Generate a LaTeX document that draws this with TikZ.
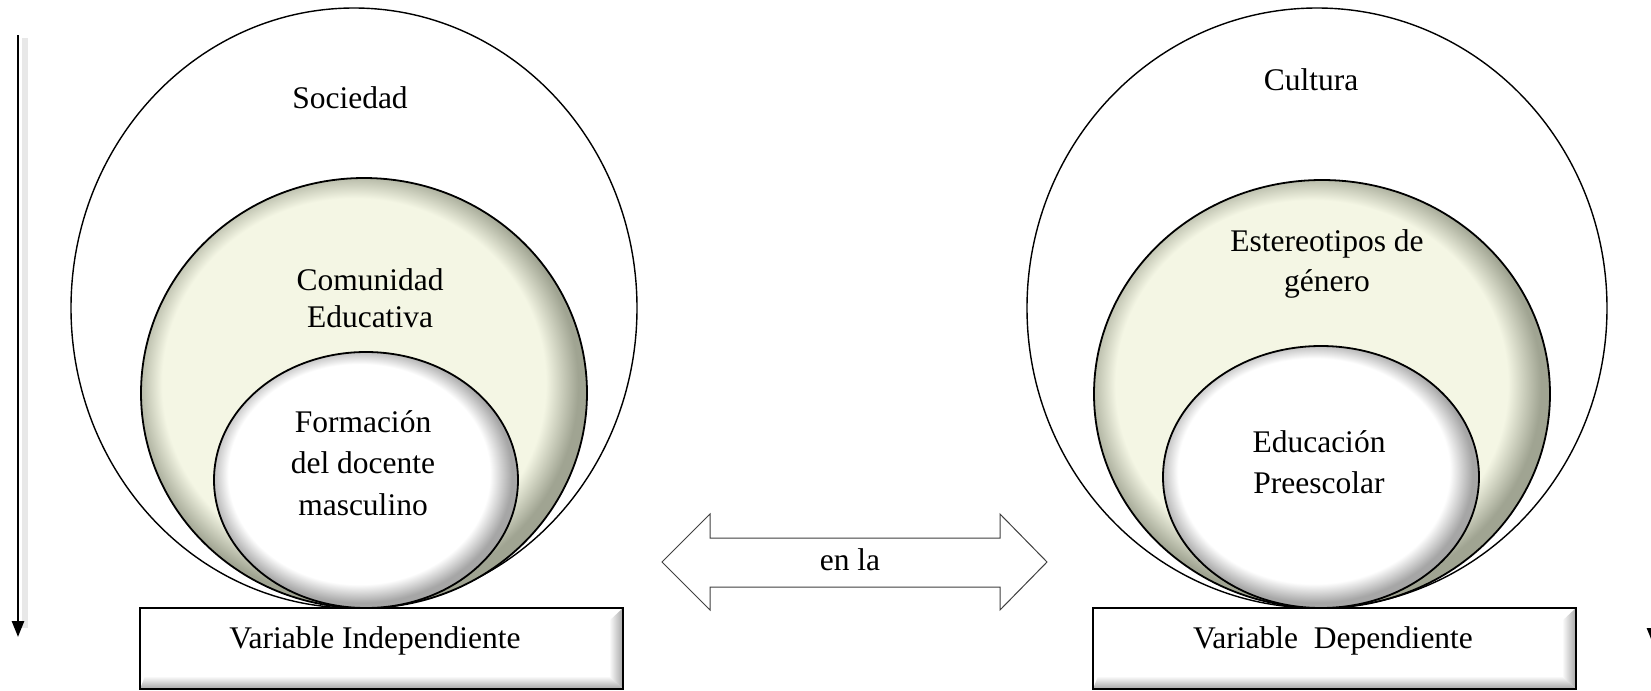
\documentclass[tikz,border=0pt]{standalone}
\usepackage{fontspec}
\setmainfont{Liberation Serif}
\usetikzlibrary{arrows.meta}
\definecolor{ringfill}{RGB}{244,246,228}
\definecolor{ringshade}{RGB}{160,164,146}
\pgfdeclareradialshading{ringbevel}{\pgfpoint{-2bp}{2bp}}{color(0bp)=(ringfill); color(21.5bp)=(ringfill); color(25bp)=(ringshade); color(50bp)=(ringshade)}
\pgfdeclareradialshading{corebevel}{\pgfpoint{-2bp}{2bp}}{color(0bp)=(white); color(21.5bp)=(white); color(25bp)=(gray!70); color(50bp)=(gray!70)}
\tikzset{
  label text/.style={align=center, inner sep=0pt, font=\fontsize{15.75}{20.75}\selectfont},
  outline/.style={draw=black, line width=0.7pt},
  bevel line/.style={draw=black, line width=0.9pt},
  time arrow/.style={-{Triangle[width=6pt,length=8pt]}, line width=1.3pt},
}
\begin{document}
\begin{tikzpicture}[x=0.5pt, y=-0.5pt]
\useasboundingbox (0,0) rectangle (1651,691);
\clip (0,0) rectangle (1651,691);
\fill[white] (0,0) rectangle (1651,691);
\coordinate (ltop) at (18,35);
\coordinate (lend) at (18,637);
\coordinate (rtop) at (1653,40);
\coordinate (rend) at (1653,644);
\draw[gray!18, line width=3pt] (25,38) -- (25,628);
\draw[time arrow] (ltop) -- (lend);
\draw[time arrow] (rtop) -- (rend);
\draw[outline, fill=white] (354,308) ellipse [x radius=283, y radius=300];
\shadedraw[shading=ringbevel, bevel line] (364,393) ellipse [x radius=223, y radius=215];
\shadedraw[shading=corebevel, bevel line] (366,480) ellipse [x radius=152, y radius=128];
\draw[outline, fill=white] (1317,308) ellipse [x radius=290, y radius=300];
\shadedraw[shading=ringbevel, bevel line] (1322,394) ellipse [x radius=228, y radius=214];
\shadedraw[shading=corebevel, bevel line] (1321,477) ellipse [x radius=158, y radius=131];
\foreach \bx in {140,1093}{
  \fill[white] (\bx,608) rectangle ++(483,81);
  \shade[left color=white, right color=gray!70] (\bx+469,621) -- (\bx+483,608) -- (\bx+483,689) -- (\bx+469,676) -- cycle;
  \shade[top color=white, bottom color=gray!70] (\bx+5,676) -- (\bx+469,676) -- (\bx+483,689) -- (\bx,689) -- cycle;
  \draw[line width=1.3pt] (\bx,608) rectangle ++(483,81);
}
\draw[draw=black!75, line width=0.5pt] (662,562) -- (710,514) -- (710,538) -- (1000,538) -- (1000,514) -- (1047,562) -- (1000,610) -- (1000,587) -- (710,587) -- (710,610) -- cycle;
\node[label text] (soc) at (350,98) {Sociedad};
\node[label text, font=\fontsize{15.75}{18.5}\selectfont] (com) at (370,298) {Comunidad\\Educativa};
\node[label text] (form) at (363,463) {Formación\\del docente\\masculino};
\node[label text] (vind) at (375,641) {Variable Independiente};
\node[label text] (cul) at (1311,80) {Cultura};
\node[label text, font=\fontsize{15.75}{20}\selectfont] (est) at (1327,264) {Estereotipos de\\género};
\node[label text, font=\fontsize{15.75}{20.5}\selectfont] (edu) at (1319,462) {Educación\\Preescolar};
\node[label text] (vdep) at (1333,641) {Variable\ \ Dependiente};
\node[label text] (enla) at (850,560) {en la};
\end{tikzpicture}
\end{document}
